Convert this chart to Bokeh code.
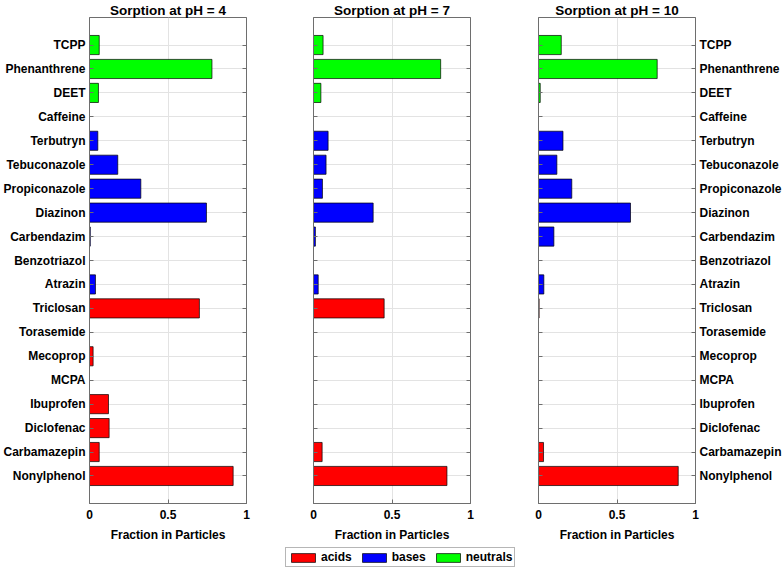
from bokeh.plotting import figure
from bokeh.models import (Range1d, FixedTicker, LinearAxis, Legend, LegendItem,
                          ColumnDataSource)
from bokeh.layouts import row, column
from bokeh.embed import file_html
from bokeh.resources import INLINE

# ---------------- data (bottom to top) ----------------
compounds = ["Nonylphenol", "Carbamazepin", "Diclofenac", "Ibuprofen", "MCPA",
             "Mecoprop", "Torasemide", "Triclosan", "Atrazin", "Benzotriazol",
             "Carbendazim", "Diazinon", "Propiconazole", "Tebuconazole",
             "Terbutryn", "Caffeine", "DEET", "Phenanthrene", "TCPP"]
classes = (["acids"] * 8) + (["bases"] * 7) + (["neutrals"] * 4)

ph4 = [0.915, 0.062, 0.125, 0.121, 0.0, 0.023, 0.0, 0.70, 0.038, 0.0,
       0.005, 0.745, 0.327, 0.18, 0.053, 0.0, 0.057, 0.78, 0.062]
ph7 = [0.85, 0.055, 0.0, 0.0, 0.0, 0.0, 0.0, 0.45, 0.03, 0.0,
       0.012, 0.38, 0.057, 0.08, 0.093, 0.0, 0.047, 0.81, 0.061]
ph10 = [0.89, 0.032, 0.0, 0.0, 0.0, 0.0, 0.0, 0.004, 0.034, 0.0,
        0.098, 0.586, 0.212, 0.117, 0.156, 0.0, 0.011, 0.756, 0.145]

titles = ["Sorption at pH = 4", "Sorption at pH = 7", "Sorption at pH = 10"]
class_names = ["acids", "bases", "neutrals"]
class_colors = ["#ff0000", "#0000ff", "#00ff00"]
xticks = [0, 0.5, 1]
xtick_labels = ["0", "0.5", "1"]
xlabel = "Fraction in Particles"

FONT = "Liberation Sans"
AX_COLOR = "#6e6e6e"
GRID_COLOR = "#e3e3e3"

positions = list(range(1, len(compounds) + 1))
ytick_map = {p: c for p, c in zip(positions, compounds)}
blank_map = {p: "" for p in positions}

PANEL_H = 547
LEGEND_H = 22


def style_axis(ax):
    ax.axis_line_color = AX_COLOR
    ax.major_tick_line_color = AX_COLOR
    ax.major_tick_in = 4
    ax.major_tick_out = 0
    ax.minor_tick_line_color = None
    ax.major_label_text_font = FONT
    ax.major_label_text_font_style = "bold"
    ax.major_label_text_font_size = "12px"
    ax.major_label_text_color = "black"
    ax.major_label_standoff = 4


def make_panel(values, title, width, left_b, right_b, labels_side):
    p = figure(width=width, height=PANEL_H, output_backend="svg", toolbar_location=None,
               x_range=Range1d(0, 1), y_range=Range1d(-0.15, 20.15),
               y_axis_location=None, min_border_left=left_b, min_border_right=right_b,
               min_border_top=16, min_border_bottom=44)
    p.title.text = title
    p.title.align = "center"
    p.title.text_font = FONT
    p.title.text_font_size = "13.5px"
    p.title.text_font_style = "bold"
    p.title.text_color = "black"
    p.title.standoff = 0
    p.outline_line_color = AX_COLOR

    p.xaxis.ticker = FixedTicker(ticks=xticks)
    p.xaxis.major_label_overrides = {t: l for t, l in zip(xticks, xtick_labels)}
    style_axis(p.xaxis[0])
    p.xaxis.major_label_standoff = 6
    p.xaxis.axis_label = xlabel
    p.xaxis.axis_label_text_font = FONT
    p.xaxis.axis_label_text_font_style = "bold"
    p.xaxis.axis_label_text_font_size = "12px"
    p.xaxis.axis_label_text_color = "black"
    p.xaxis.axis_label_standoff = 6

    for side in ["left", "right"]:
        ax = LinearAxis(ticker=FixedTicker(ticks=positions))
        style_axis(ax)
        if side == labels_side:
            ax.major_label_overrides = ytick_map
        else:
            ax.major_label_overrides = blank_map
            ax.major_label_standoff = 0
        p.add_layout(ax, side)

    p.xgrid.ticker = FixedTicker(ticks=xticks)
    p.ygrid.ticker = FixedTicker(ticks=positions)
    p.xgrid.grid_line_color = GRID_COLOR
    p.ygrid.grid_line_color = GRID_COLOR

    for cname, color in zip(class_names, class_colors):
        idx = [i for i, c in enumerate(classes) if c == cname]
        src = ColumnDataSource(dict(y=[positions[i] for i in idx],
                                    right=[values[i] for i in idx]))
        p.hbar(y="y", right="right", left=0, height=0.8, source=src,
               fill_color=color, line_color="black", line_width=0.7)
    return p


p1 = make_panel(ph4, titles[0], 279, 89, 33, "left")
p2 = make_panel(ph7, titles[1], 225, 34, 34, None)
p3 = make_panel(ph10, titles[2], 280, 34, 89, "right")

# legend strip
lf = figure(width=784, height=LEGEND_H, output_backend="svg", toolbar_location=None,
            x_range=Range1d(0, 1), y_range=Range1d(0, 1),
            min_border=0, outline_line_color=None)
lf.axis.visible = False
lf.grid.visible = False
items = []
for cname, color in zip(class_names, class_colors):
    idx = [i for i, c in enumerate(classes) if c == cname]
    src = ColumnDataSource(dict(y=[positions[i] for i in idx],
                                right=[ph7[i] for i in idx]))
    r = lf.hbar(y="y", right="right", left=0, height=0.8, source=src,
                fill_color=color, line_color="black", line_width=0.7)
    r.visible = False
    items.append(LegendItem(label=cname, renderers=[r]))
lg = Legend(items=items, orientation="horizontal", location=(285, 2))
lg.label_text_font = FONT
lg.label_text_font_style = "bold"
lg.label_text_font_size = "12px"
lg.label_text_color = "black"
lg.glyph_width = 30
lg.glyph_height = 11
lg.label_height = 12
lg.label_standoff = 3
lg.spacing = 7
lg.padding = 2
lg.margin = 0
lg.inactive_fill_alpha = 0
lg.border_line_color = AX_COLOR
lf.add_layout(lg, "center")

layout = column(row(p1, p2, p3), lf)
open("out.html", "w").write(file_html(layout, INLINE))
